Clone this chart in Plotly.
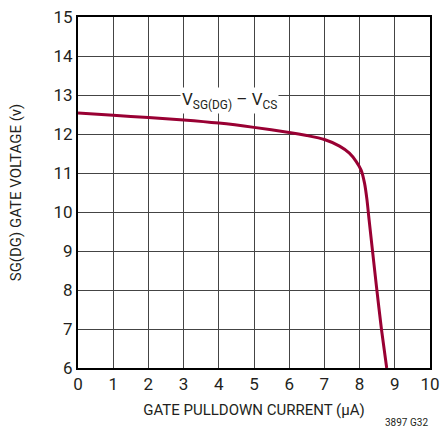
import plotly.graph_objects as go

# gate pulldown current (uA) vs SG(DG) gate voltage (V)
current_ua = [0, 1, 2, 3, 4, 5, 6.0, 6.5, 7.0, 7.43, 7.71, 7.9, 8.04, 8.14, 8.21, 8.27, 8.48, 8.62, 8.77]
gate_v = [12.54, 12.48, 12.42, 12.36, 12.28, 12.17, 12.04, 11.96, 11.86, 11.69, 11.51, 11.3, 11.08, 10.74, 10.31, 9.8, 8.08, 7.0, 6.0]

x_ticks = list(range(0, 11))
y_ticks = list(range(6, 16))

FONT = "Roboto, Liberation Sans, sans-serif"
INK = "#231f20"

fig = go.Figure()
fig.add_trace(go.Scatter(
    x=current_ua, y=gate_v, mode="lines",
    line=dict(color="#990033", width=3, shape="spline", smoothing=0.6),
    hoverinfo="skip",
))

fig.add_annotation(
    x=4.3, y=12.85, xref="x", yref="y",
    text="V<sub>SG(DG)</sub> – V<sub>CS</sub>",
    showarrow=False, bgcolor="white",
    font=dict(family=FONT, size=17, color=INK),
)
fig.add_annotation(
    x=1.0, y=0, xref="paper", yref="paper", yshift=-62, xanchor="right",
    text="3897 G32", showarrow=False,
    font=dict(family=FONT, size=10, color=INK),
)

axis_common = dict(
    showgrid=True, gridcolor="#444444", gridwidth=1,
    showline=True, linecolor="black", linewidth=2, mirror=True,
    ticks="", zeroline=False, automargin=False,
    tickfont=dict(family=FONT, size=17, color=INK),
    title_font=dict(family=FONT, size=15, color=INK),
)

fig.update_xaxes(
    range=[0, 10], tickvals=x_ticks,
    title_text="GATE PULLDOWN CURRENT (µA)", title_standoff=11,
    **axis_common,
)
fig.update_yaxes(
    range=[6, 15], tickvals=y_ticks,
    title_text="SG(DG) GATE VOLTAGE (v)", title_standoff=28,
    **axis_common,
)

fig.update_layout(
    width=440, height=438,
    margin=dict(l=78, r=10, t=17, b=70),
    plot_bgcolor="white", paper_bgcolor="white",
    showlegend=False,
)

# the default page adds an 8px body margin; drop it so the chart sits at 0,0
fig.write_html(
    "out.html",
    config={"displayModeBar": False},
    post_script="document.body.style.margin = '0';",
)
